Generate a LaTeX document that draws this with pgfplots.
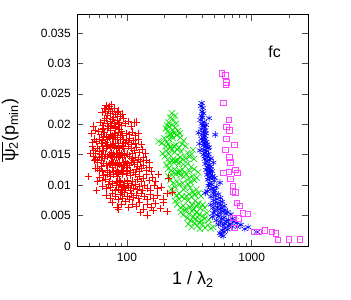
\documentclass[border=0pt]{standalone}
\usepackage{fontspec}
\setmainfont{Liberation Sans}
\usepackage{pgfplots}
\pgfplotsset{compat=1.18}
\definecolor{gpred}{RGB}{255,0,0}
\definecolor{gpgreen}{RGB}{0,225,0}
\definecolor{gpblue}{RGB}{0,0,255}
\definecolor{gpmag}{RGB}{255,64,255}
\pgfdeclareplotmark{sqdot}{%
  \pgfsetstrokecolor{gpmag}\pgfsetfillcolor{gpmag}%
  \pgfpathrectangle{\pgfqpoint{-\pgfplotmarksize}{-\pgfplotmarksize}}{\pgfqpoint{2\pgfplotmarksize}{2\pgfplotmarksize}}%
  \pgfusepathqstroke
  \pgfpathcircle{\pgfpointorigin}{0.5pt}%
  \pgfusepathqfill}
\pgfdeclareplotmark{rplus}{%
  \pgfsetstrokecolor{gpred}%
  \pgfpathmoveto{\pgfqpoint{-\pgfplotmarksize}{0pt}}\pgfpathlineto{\pgfqpoint{\pgfplotmarksize}{0pt}}%
  \pgfpathmoveto{\pgfqpoint{0pt}{-\pgfplotmarksize}}\pgfpathlineto{\pgfqpoint{0pt}{\pgfplotmarksize}}%
  \pgfusepathqstroke}
\pgfdeclareplotmark{gx}{%
  \pgfsetstrokecolor{gpgreen}%
  \pgfpathmoveto{\pgfqpoint{-.7071\pgfplotmarksize}{-.7071\pgfplotmarksize}}\pgfpathlineto{\pgfqpoint{.7071\pgfplotmarksize}{.7071\pgfplotmarksize}}%
  \pgfpathmoveto{\pgfqpoint{-.7071\pgfplotmarksize}{.7071\pgfplotmarksize}}\pgfpathlineto{\pgfqpoint{.7071\pgfplotmarksize}{-.7071\pgfplotmarksize}}%
  \pgfusepathqstroke}
\pgfdeclareplotmark{bast}{%
  \pgfsetstrokecolor{gpblue}%
  \pgfpathmoveto{\pgfqpoint{0pt}{-\pgfplotmarksize}}\pgfpathlineto{\pgfqpoint{0pt}{\pgfplotmarksize}}%
  \pgfpathmoveto{\pgfqpoint{-.866\pgfplotmarksize}{-.5\pgfplotmarksize}}\pgfpathlineto{\pgfqpoint{.866\pgfplotmarksize}{.5\pgfplotmarksize}}%
  \pgfpathmoveto{\pgfqpoint{-.866\pgfplotmarksize}{.5\pgfplotmarksize}}\pgfpathlineto{\pgfqpoint{.866\pgfplotmarksize}{-.5\pgfplotmarksize}}%
  \pgfusepathqstroke}
\pgfplotsset{
  redst/.style={only marks, mark=rplus, mark size=3.7pt, color=gpred, mark options={line width=0.65pt}},
  greenst/.style={only marks, mark=gx, mark size=4.3pt, color=gpgreen, mark options={line width=0.6pt}},
  bluest/.style={only marks, mark=bast, mark size=3.4pt, color=gpblue, mark options={line width=0.6pt}},
}
\begin{document}
\begin{tikzpicture}
\useasboundingbox (-77.3bp,-54bp) rectangle (273.7bp,246bp);
\begin{axis}[
  at={(0,0)}, anchor=south west,
  scale only axis, width=231bp, height=231.3bp,
  xmode=log, xmin=40, xmax=2840, ymin=0, ymax=0.038,
  xtick={100,1000}, xticklabels={100,1000},
  minor xtick={50,60,70,80,90,200,300,400,500,600,700,800,900,2000},
  ytick={0,0.005,0.01,0.015,0.02,0.025,0.03,0.035},
  yticklabels={0,0.005,0.01,0.015,0.02,0.025,0.03,0.035},
  scaled y ticks=false,
  tick pos=both, tick align=inside,
  major tick length=6bp, minor tick length=3bp,
  axis line style={line width=0.8bp},
  tick style={line width=0.6bp, black!70},
  ticklabel style={font=\fontsize{12}{14}\selectfont},
  xticklabel style={yshift=-4bp},
  yticklabel style={xshift=-3bp},
  xlabel={1 / λ\textsubscript{2}},
  ylabel={$\overline{\mbox{ψ\textsubscript{2}}}$(p\textsubscript{min})},
  label style={font=\fontsize{18}{20}\selectfont},
  xlabel style={at={(axis description cs:0.5,-0.1686)}, anchor=base},
  ylabel style={at={(axis description cs:-0.27,0.5)}, anchor=base, rotate=0},
  clip=true,
]
% green
\addplot[greenst] coordinates {
(229,0.0218)(222,0.0211)(236,0.0207)(215,0.0203)(243,0.0214)(248,0.0201)(231,0.0199)
(205,0.0193)(212,0.0188)(219,0.0196)(225,0.0184)(232,0.0191)(238,0.0186)(244,0.0194)(251,0.0182)(258,0.0189)(228,0.0181)(216,0.0182)(265,0.0185)(210,0.0198)
(179,0.0172)(190,0.0169)(198,0.0177)(204,0.0164)(209,0.0171)(214,0.0167)(219,0.0175)(223,0.0162)(233,0.0177)(238,0.0164)(248,0.0166)(261,0.0161)(268,0.0178)(276,0.0168)(285,0.0173)(295,0.0164)(222,0.0163)
(193,0.0152)(201,0.0147)(207,0.0156)(212,0.0142)(218,0.0151)(227,0.0158)(236,0.0143)(241,0.0154)(251,0.0159)(256,0.0141)(266,0.0146)(272,0.0155)(279,0.0143)(296,0.0144)(306,0.0153)(339,0.0158)(244,0.0140)(230,0.0141)(318,0.0147)(330,0.0151)(345,0.0143)
(207,0.0133)(214,0.0127)(220,0.0136)(226,0.0124)(236,0.0138)(241,0.0126)(251,0.0122)(261,0.0136)(266,0.0123)(278,0.0126)(284,0.0134)(291,0.0121)(306,0.0135)(316,0.0124)(328,0.0130)(250,0.0139)(263,0.0120)(345,0.0126)(372,0.0121)
(215,0.0114)(222,0.0108)(229,0.0117)(235,0.0104)(247,0.0118)(252,0.0106)(263,0.0101)(268,0.0116)(280,0.0103)(286,0.0114)(299,0.0118)(306,0.0102)(314,0.0111)(323,0.0105)(334,0.0115)(347,0.0108)(362,0.0112)
(226,0.0094)(234,0.0088)(242,0.0097)(250,0.0083)(263,0.0086)(276,0.0081)(282,0.0093)(294,0.0095)(300,0.0082)(314,0.0085)(321,0.0096)(329,0.0081)(338,0.0089)(348,0.0084)(360,0.0093)(375,0.0087)(392,0.0082)
(243,0.0074)(252,0.0068)(261,0.0077)(269,0.0063)(283,0.0066)(290,0.0078)(297,0.0061)(311,0.0075)(318,0.0064)(334,0.0067)(343,0.0061)(352,0.0074)(362,0.0065)(374,0.0070)(388,0.0062)(405,0.0068)(420,0.0063)
(270,0.0056)(283,0.0051)(295,0.0058)(305,0.0046)(314,0.0053)(323,0.0042)(332,0.0057)(341,0.0049)(350,0.0044)(360,0.0055)(370,0.0047)(381,0.0052)(393,0.0041)(406,0.0050)(420,0.0045)(437,0.0054)(455,0.0043)
(310,0.0036)(330,0.0031)(348,0.0038)(366,0.0033)(384,0.0028)(402,0.0036)(422,0.0030)(445,0.0034)(470,0.0029)(493,0.0031)(380,0.0039)
};
% blue
\addplot[bluest] coordinates {
(398,0.0235)(392,0.0230)(405,0.0227)(400,0.0221)(410,0.0218)(395,0.0214)(402,0.0211)(455,0.0210)(388,0.0207)(415,0.0204)(398,0.0201)
(405,0.0198)(418,0.0195)(395,0.0192)(425,0.0190)(410,0.0187)(430,0.0185)(400,0.0183)(510,0.0183)(420,0.0181)(375,0.0186)
(412,0.0178)(425,0.0176)(405,0.0173)(432,0.0171)(418,0.0169)(440,0.0167)(410,0.0165)(428,0.0163)(445,0.0161)(415,0.0158)(435,0.0156)(422,0.0153)(450,0.0151)(410,0.0150)(380,0.0168)(385,0.0157)
(430,0.0148)(445,0.0146)(420,0.0143)(460,0.0141)(438,0.0139)(493,0.0137)(425,0.0135)(452,0.0133)(470,0.0131)(440,0.0129)(458,0.0127)(432,0.0125)(480,0.0123)(448,0.0121)
(465,0.0119)(440,0.0117)(485,0.0115)(455,0.0113)(470,0.0111)(445,0.0109)(500,0.0107)(557,0.0104)(460,0.0103)(478,0.0101)(450,0.0099)(520,0.0097)(490,0.0095)(470,0.0093)(505,0.0091)
(424,0.0087)(493,0.0087)(540,0.0085)(510,0.0083)(470,0.0081)(560,0.0079)(525,0.0077)(495,0.0075)(580,0.0073)(545,0.0071)(510,0.0070)
(470,0.0068)(560,0.0067)(600,0.0066)(530,0.0064)(490,0.0063)(575,0.0062)(611,0.0059)(545,0.0060)(505,0.0058)(590,0.0057)(640,0.0056)(493,0.0054)(560,0.0055)(620,0.0053)(680,0.0052)(530,0.0051)
(483,0.0048)(545,0.0049)(600,0.0047)(653,0.0043)(700,0.0045)(575,0.0044)(520,0.0042)(625,0.0041)(720,0.0040)(760,0.0038)(560,0.0039)(610,0.0037)(670,0.0036)(540,0.0035)(590,0.0034)(650,0.0033)(700,0.0032)(770,0.0031)(936,0.0031)(820,0.0035)
(580,0.0026)(557,0.0021)(610,0.0029)(640,0.0027)(600,0.0023)(1100,0.0023)(880,0.0028)(570,0.0018)(590,0.0016)
(455,0.0162)(470,0.0144)(395,0.0176)(430,0.0199)(468,0.0125)(505,0.0112)(440,0.0090)
};
% magenta
\addplot[only marks, mark=sqdot, mark size=2.8pt, color=gpmag, mark options={line width=0.7pt}] coordinates {
(576,0.0284)(612,0.0280)(623,0.0269)(619,0.0265)(594,0.0235)(653,0.0207)(629,0.0196)(665,0.0190)(629,0.0176)(729,0.0166)(617,0.0158)(665,0.0146)(677,0.0137)(743,0.0125)(653,0.0122)(594,0.0120)(771,0.0120)(677,0.0110)(703,0.0099)(703,0.0090)(743,0.0088)(757,0.0071)(800,0.0066)(846,0.0054)(929,0.0053)(716,0.0046)(785,0.0045)(729,0.0030)(1038,0.0023)(1138,0.0023)(1273,0.0026)(1449,0.0023)(1562,0.0021)(1621,0.0010)(1988,0.0011)(2438,0.0011)
};
% red
\addplot[redst] coordinates {
(76,0.0071)(83,0.0064)(90,0.0068)(97,0.0073)(103,0.0063)(110,0.0069)(118,0.0066)(126,0.0072)(135,0.0061)(145,0.0068)(157,0.0064)(170,0.0070)(185,0.0062)(196,0.0071)(210,0.0057)(86,0.0061)
(145,0.0051)(128,0.0055)(162,0.0058)
(52,0.0185)(53,0.0163)(51,0.0152)(54,0.0197)(55,0.0176)(56,0.0128)(57,0.0091)(55,0.0141)(58,0.0106)(53,0.0170)(56,0.0190)(54,0.0147)
(68,0.0231)(72,0.0229)(75,0.0232)(79,0.0227)(66,0.0226)
(63,0.0219)(67,0.0222)(70,0.0214)(73,0.0218)(76,0.0221)(78,0.0212)(81,0.0216)(84,0.0219)(88,0.0213)(92,0.0217)(71,0.0224)(86,0.0222)
(61,0.0203)(64,0.0198)(66,0.0207)(69,0.0201)(71,0.0196)(73,0.0205)(75,0.0199)(77,0.0208)(79,0.0202)(81,0.0197)(83,0.0206)(85,0.0200)(87,0.0204)(90,0.0198)(93,0.0209)(97,0.0201)(102,0.0205)(108,0.0197)(114,0.0203)(118,0.0204)(68,0.0209)(80,0.0195)
(59,0.0188)(62,0.0183)(64,0.0191)(66,0.0186)(68,0.0181)(70,0.0193)(73,0.0184)(74,0.0190)(76,0.0182)(79,0.0185)(80,0.0193)(83,0.0182)(85,0.0187)(87,0.0191)(90,0.0188)(92,0.0182)(98,0.0185)(105,0.0183)(110,0.0187)(116,0.0182)(123,0.0185)(65,0.0194)
(57,0.0172)(60,0.0176)(62,0.0168)(64,0.0174)(65,0.0179)(67,0.0170)(68,0.0166)(70,0.0175)(72,0.0178)(74,0.0167)(76,0.0177)(78,0.0169)(80,0.0166)(81,0.0178)(84,0.0175)(85,0.0168)(88,0.0179)(91,0.0166)(93,0.0176)(97,0.0168)(99,0.0174)(102,0.0170)(105,0.0177)(108,0.0167)(112,0.0173)(117,0.0169)(124,0.0175)(131,0.0167)(73,0.0180)(89,0.0176)
(54,0.0158)(56,0.0153)(58,0.0161)(60,0.0156)(62,0.0151)(63,0.0163)(65,0.0158)(68,0.0160)(70,0.0164)(72,0.0150)(74,0.0162)(75,0.0154)(78,0.0152)(79,0.0163)(82,0.0160)(83,0.0151)(86,0.0162)(87,0.0154)(90,0.0152)(91,0.0164)(94,0.0161)(96,0.0153)(100,0.0151)(102,0.0163)(108,0.0160)(111,0.0152)(114,0.0157)(119,0.0162)(125,0.0154)(132,0.0159)(140,0.0152)(76,0.0165)(67,0.0150)
(56,0.0143)(58,0.0138)(60,0.0146)(62,0.0140)(63,0.0148)(65,0.0136)(66,0.0144)(69,0.0147)(72,0.0136)(74,0.0149)(75,0.0138)(78,0.0137)(79,0.0147)(82,0.0145)(83,0.0136)(86,0.0148)(87,0.0138)(91,0.0146)(93,0.0137)(96,0.0149)(97,0.0139)(101,0.0136)(105,0.0148)(108,0.0138)(110,0.0144)(113,0.0140)(116,0.0146)(120,0.0137)(124,0.0143)(129,0.0139)(135,0.0145)(142,0.0141)(150,0.0137)(76,0.0146)(81,0.0135)(89,0.0149)
(58,0.0128)(60,0.0124)(62,0.0131)(64,0.0122)(68,0.0133)(69,0.0125)(72,0.0121)(74,0.0134)(77,0.0130)(78,0.0123)(81,0.0132)(83,0.0124)(86,0.0121)(87,0.0134)(90,0.0131)(92,0.0123)(95,0.0133)(99,0.0130)(100,0.0122)(104,0.0132)(107,0.0124)(112,0.0121)(115,0.0134)(118,0.0126)(121,0.0131)(125,0.0123)(130,0.0128)(136,0.0133)(143,0.0125)(150,0.0129)(158,0.0122)(76,0.0133)(82,0.0120)(94,0.0124)
(60,0.0113)(63,0.0108)(65,0.0116)(67,0.0110)(70,0.0118)(72,0.0106)(74,0.0114)(78,0.0117)(82,0.0106)(84,0.0115)(85,0.0119)(87,0.0108)(91,0.0117)(95,0.0106)(99,0.0119)(101,0.0108)(107,0.0116)(110,0.0107)(117,0.0118)(121,0.0109)(125,0.0114)(130,0.0106)(136,0.0111)(143,0.0117)(151,0.0108)(160,0.0113)(170,0.0107)(178,0.0117)(49,0.0114)(88,0.0105)(92,0.0119)(214,0.0112)
(64,0.0098)(68,0.0094)(71,0.0101)(74,0.0096)(77,0.0103)(80,0.0091)(82,0.0099)(85,0.0093)(87,0.0102)(90,0.0096)(92,0.0091)(95,0.0100)(97,0.0094)(100,0.0103)(103,0.0097)(106,0.0092)(109,0.0099)(113,0.0095)(117,0.0102)(121,0.0093)(126,0.0098)(132,0.0091)(139,0.0100)(146,0.0095)(155,0.0092)(165,0.0099)(175,0.0094)(188,0.0097)(84,0.0104)(93,0.0098)
(68,0.0084)(73,0.0079)(77,0.0087)(81,0.0081)(85,0.0076)(88,0.0085)(92,0.0079)(96,0.0088)(100,0.0082)(104,0.0077)(108,0.0086)(113,0.0080)(118,0.0084)(124,0.0078)(130,0.0087)(137,0.0081)(145,0.0076)(153,0.0085)(163,0.0079)(175,0.0083)(195,0.0077)(210,0.0086)(231,0.0089)(90,0.0089)
};
\node[font=\fontsize{16}{18}\selectfont, anchor=base] at (rel axis cs:0.854,0.817) {fc};
\end{axis}
\end{tikzpicture}
\end{document}
